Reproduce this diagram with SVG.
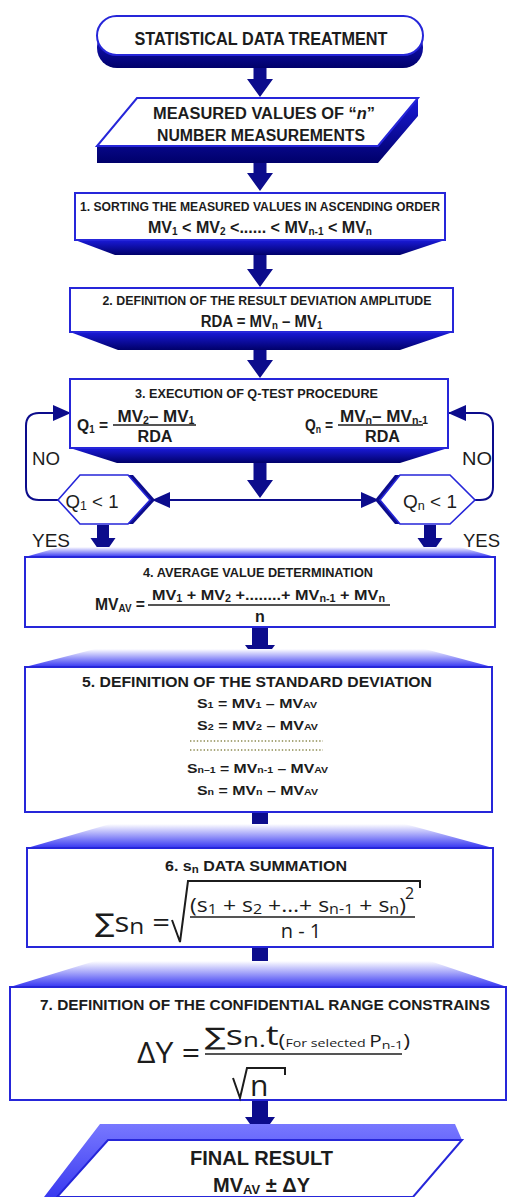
<svg xmlns="http://www.w3.org/2000/svg" width="508" height="1197" viewBox="0 0 508 1197">
<defs>
<style>
.t{font-family:"Liberation Sans",Arial,sans-serif;font-weight:bold;fill:#1c1c1c}
.r{font-family:"Liberation Sans",Arial,sans-serif;font-weight:normal;fill:#1c1c1c}
.m{font-family:"Open Sans","Noto Sans",sans-serif;font-weight:normal;fill:#1c1c1c}
.sig{font-family:"DejaVu Sans",sans-serif}
.box{fill:#fff;stroke:#2626d9;stroke-width:2}
.arr{fill:#0c0c8c}
.ln{stroke:#0c0c8c;stroke-width:2;fill:none}
.fr{stroke:#1c1c1c;stroke-width:1.5;fill:none}
.dot{stroke:#8c8a50;stroke-width:1.6;stroke-dasharray:1.4 2}
</style>
<linearGradient id="shade" x1="0" y1="0" x2="0" y2="1">
<stop offset="0" stop-color="#1a1ad8"/><stop offset="1" stop-color="#00006a"/>
</linearGradient>
<linearGradient id="bevel" x1="0" y1="0" x2="0" y2="1">
<stop offset="0" stop-color="#ffffff"/><stop offset="1" stop-color="#3434f2"/>
</linearGradient>
<linearGradient id="fin" x1="0" y1="0" x2="0" y2="1">
<stop offset="0" stop-color="#7878ff"/><stop offset="1" stop-color="#3a3af0"/>
</linearGradient>
<marker id="tri" viewBox="0 0 18 16" markerWidth="18" markerHeight="16" refX="17" refY="8" orient="auto" markerUnits="userSpaceOnUse">
<path d="M0,0 L18,8 L0,16 Z" fill="#0c0c8c"/>
</marker>
</defs>
<rect width="508" height="1197" fill="#fff"/>

<g id="connectors">
<path class="arr" d="M253.5,67 H266.5 V79 H273 L260,97 L247,79 H253.5 Z"/>
<path class="arr" d="M253.5,162 H266.5 V173 H273 L260,191 L247,173 H253.5 Z"/>
<path class="arr" d="M253.5,255 H266.5 V269 H273 L260,287 L247,269 H253.5 Z"/>
<path class="arr" d="M253.5,350 H266.5 V360 H273 L260,378 L247,360 H253.5 Z"/>
<path class="arr" d="M253.5,463 H266.5 V480 H273 L260,498 L247,480 H253.5 Z"/>
<path class="ln" d="M260,500 H153" marker-end="url(#tri)"/>
<path class="ln" d="M260,500 H378" marker-end="url(#tri)"/>
<path class="ln" d="M58,500 H39 Q26,500 26,487 V426 Q26,413 39,413 H70" marker-end="url(#tri)"/>
<path class="ln" d="M475,500 H480 Q493,500 493,487 V426 Q493,413 480,413 H449" marker-end="url(#tri)"/>
<path class="arr" d="M97,525 H109 V538 H115.5 L103,556 L90.5,538 H97 Z"/>
<path class="arr" d="M424,525 H436 V538 H442.5 L430,556 L417.5,538 H424 Z"/>
<path class="arr" d="M252,627 H268 V645 H275 L260,665 L245,645 H252 Z"/>
<path class="arr" d="M252,812 H268 V828 H275 L260,848 L245,828 H252 Z"/>
<path class="arr" d="M252,947 H268 V965 H275 L260,985 L245,965 H252 Z"/>
<path class="arr" d="M252,1100 H268 V1117 H275 L260,1138 L245,1117 H252 Z"/>
</g>

<g id="start">
<rect x="97" y="27" width="326" height="41" rx="20" fill="url(#shade)"/>
<rect class="box" x="97" y="16" width="326" height="39" rx="19.5"/>
<text class="t" x="261" y="45" font-size="18" text-anchor="middle" textLength="253" lengthAdjust="spacingAndGlyphs">STATISTICAL DATA TREATMENT</text>
</g>

<g id="input">
<polygon points="97,146 378,146 418,98 418,116 378,163 97,163" fill="url(#shade)"/>
<polygon class="box" points="137,98 418,98 378,146 97,146"/>
<text class="t" x="264" y="119" font-size="16" text-anchor="middle" textLength="222" lengthAdjust="spacingAndGlyphs">MEASURED VALUES OF “<tspan font-style="italic">n</tspan>”</text>
<text class="t" x="261" y="141" font-size="16" text-anchor="middle" textLength="208" lengthAdjust="spacingAndGlyphs">NUMBER MEASUREMENTS</text>
</g>

<g id="step1">
<polygon points="75,240 445,240 400,255 115,255" fill="url(#shade)"/>
<rect class="box" x="75" y="193" width="370" height="47"/>
<text class="t" x="260" y="211" font-size="12" text-anchor="middle" textLength="360" lengthAdjust="spacingAndGlyphs">1. SORTING THE MEASURED VALUES IN ASCENDING ORDER</text>
<text class="t" x="260" y="233" font-size="16" text-anchor="middle" textLength="224" lengthAdjust="spacingAndGlyphs">MV<tspan font-size="10" dy="2">1</tspan><tspan dy="-2"> &lt; MV</tspan><tspan font-size="10" dy="2">2</tspan><tspan dy="-2"> &lt;...... &lt; MV</tspan><tspan font-size="10" dy="2">n-1</tspan><tspan dy="-2"> &lt; MV</tspan><tspan font-size="10" dy="2">n</tspan></text>
</g>

<g id="step2">
<polygon points="70,332 453,332 400,350 118,350" fill="url(#shade)"/>
<rect class="box" x="70" y="288" width="383" height="44"/>
<text class="t" x="267" y="305" font-size="13" text-anchor="middle" textLength="329" lengthAdjust="spacingAndGlyphs">2. DEFINITION OF THE RESULT DEVIATION AMPLITUDE</text>
<text class="t" transform="translate(261.5,327) scale(0.88,1)" x="0" y="0" font-size="17" text-anchor="middle">RDA = MV<tspan font-size="11" dy="2">n</tspan><tspan dy="-2"> – MV</tspan><tspan font-size="11" dy="2">1</tspan></text>
</g>

<g id="step3">
<polygon points="70,448 448,448 400,463 117,463" fill="url(#shade)"/>
<rect class="box" x="70" y="379" width="378" height="69"/>
<text class="t" x="256.5" y="398" font-size="12" text-anchor="middle" textLength="243" lengthAdjust="spacingAndGlyphs">3. EXECUTION OF Q-TEST PROCEDURE</text>
<text class="t" x="77" y="431" font-size="16" textLength="31" lengthAdjust="spacingAndGlyphs">Q<tspan font-size="10" dy="2">1</tspan><tspan dy="-2"> =</tspan></text>
<text class="t" x="156" y="422" font-size="16" text-anchor="middle" textLength="77" lengthAdjust="spacingAndGlyphs">MV<tspan font-size="10" dy="2">2</tspan><tspan dy="-2">– MV</tspan><tspan font-size="10" dy="2">1</tspan></text>
<line class="fr" x1="113" y1="425" x2="196" y2="425"/>
<text class="t" x="155" y="442" font-size="16" text-anchor="middle" textLength="35" lengthAdjust="spacingAndGlyphs">RDA</text>
<text class="t" x="305" y="431" font-size="16" textLength="28" lengthAdjust="spacingAndGlyphs">Q<tspan font-size="10" dy="2">n</tspan><tspan dy="-2"> =</tspan></text>
<text class="t" x="384" y="422" font-size="16" text-anchor="middle" textLength="88" lengthAdjust="spacingAndGlyphs">MV<tspan font-size="10" dy="2">n</tspan><tspan dy="-2">– MV</tspan><tspan font-size="10" dy="2">n-1</tspan></text>
<line class="fr" x1="338" y1="425" x2="423" y2="425"/>
<text class="t" x="382.5" y="442" font-size="16" text-anchor="middle" textLength="35" lengthAdjust="spacingAndGlyphs">RDA</text>
</g>

<g id="testQ1">
<polygon points="63,500 85,475 133,475 155,500 133,524 85,524" fill="#0c0c8c"/>
<polygon points="58,500 80,475 128,475 150,500 128,524 80,524" fill="#fff" stroke="#2626d9" stroke-width="1.6"/>
<text class="r" x="92" y="508" font-size="18" text-anchor="middle" textLength="53" lengthAdjust="spacingAndGlyphs">Q<tspan font-size="12" dy="2">1</tspan><tspan dy="-2"> &lt; 1</tspan></text>
</g>

<g id="testQn">
<polygon points="375,500 395,475 445,475 470,500 445,524 395,524" fill="#0c0c8c"/>
<polygon points="380,500 400,475 450,475 475,500 450,524 400,524" fill="#fff" stroke="#2626d9" stroke-width="1.6"/>
<text class="r" x="430" y="508" font-size="18" text-anchor="middle" textLength="54" lengthAdjust="spacingAndGlyphs">Q<tspan font-size="12" dy="2">n</tspan><tspan dy="-2"> &lt; 1</tspan></text>
</g>

<g id="labels">
<text class="r" x="32" y="465" font-size="18" textLength="28" lengthAdjust="spacingAndGlyphs">NO</text>
<text class="r" x="462" y="465" font-size="18" textLength="30" lengthAdjust="spacingAndGlyphs">NO</text>
<text class="r" x="32" y="547" font-size="18" textLength="38" lengthAdjust="spacingAndGlyphs">YES</text>
<text class="r" x="463" y="547" font-size="18" textLength="37" lengthAdjust="spacingAndGlyphs">YES</text>
</g>

<g id="step4">
<polygon points="25,557 495,557 460,547 60,547" fill="url(#bevel)"/>
<rect class="box" x="25" y="557" width="470" height="70"/>
<text class="t" x="258" y="577" font-size="12" text-anchor="middle" textLength="230" lengthAdjust="spacingAndGlyphs">4. AVERAGE VALUE DETERMINATION</text>
<text class="t" x="95" y="610" font-size="16" textLength="50" lengthAdjust="spacingAndGlyphs">MV<tspan font-size="10" dy="2">AV</tspan><tspan dy="-2"> =</tspan></text>
<text class="t" x="268.5" y="600" font-size="15" text-anchor="middle" textLength="233" lengthAdjust="spacingAndGlyphs">MV<tspan font-size="10" dy="2">1</tspan><tspan dy="-2"> + MV</tspan><tspan font-size="10" dy="2">2</tspan><tspan dy="-2"> +........+ MV</tspan><tspan font-size="10" dy="2">n-1</tspan><tspan dy="-2"> + MV</tspan><tspan font-size="10" dy="2">n</tspan></text>
<line class="fr" x1="148" y1="605" x2="390" y2="605"/>
<text class="t" x="260" y="622" font-size="16" text-anchor="middle">n</text>
</g>

<g id="step5">
<polygon points="25,667 492,667 425,649 95,649" fill="url(#bevel)"/>
<rect class="box" x="25" y="667" width="467" height="145"/>
<text class="t" x="257" y="687" font-size="15" text-anchor="middle" textLength="350" lengthAdjust="spacingAndGlyphs">5. DEFINITION OF THE STANDARD DEVIATION</text>
<text class="t" x="257" y="708" font-size="13.5" text-anchor="middle" textLength="120" lengthAdjust="spacingAndGlyphs">S<tspan font-size="9">1</tspan> = MV<tspan font-size="9">1</tspan> – MV<tspan font-size="9">AV</tspan></text>
<text class="t" x="257.5" y="730" font-size="13.5" text-anchor="middle" textLength="121" lengthAdjust="spacingAndGlyphs">S<tspan font-size="9">2</tspan> = MV<tspan font-size="9">2</tspan> – MV<tspan font-size="9">AV</tspan></text>
<line class="dot" x1="190" y1="741" x2="323" y2="741"/>
<line class="dot" x1="190" y1="750" x2="323" y2="750"/>
<text class="t" x="257.5" y="773" font-size="13.5" text-anchor="middle" textLength="141" lengthAdjust="spacingAndGlyphs">S<tspan font-size="9">n–1</tspan> = MV<tspan font-size="9">n-1</tspan> – MV<tspan font-size="9">AV</tspan></text>
<text class="t" x="257.5" y="795" font-size="13.5" text-anchor="middle" textLength="121" lengthAdjust="spacingAndGlyphs">S<tspan font-size="9">n</tspan> = MV<tspan font-size="9">n</tspan> – MV<tspan font-size="9">AV</tspan></text>
</g>

<g id="step6">
<polygon points="27,848 493,848 405,824 110,824" fill="url(#bevel)"/>
<rect class="box" x="27" y="848" width="466" height="99"/>
<text class="t" x="256" y="871" font-size="14" text-anchor="middle" textLength="182" lengthAdjust="spacingAndGlyphs">6. s<tspan font-size="10" dy="2">n</tspan><tspan dy="-2"> DATA SUMMATION</tspan></text>
<text class="m" x="95" y="932" font-size="28" textLength="75" lengthAdjust="spacingAndGlyphs"><tspan class="sig" font-size="26">∑</tspan>s<tspan font-size="22" dy="2">n</tspan><tspan dy="-2"> =</tspan></text>
<path d="M172,920 L180,942 L188,881 L420,881 L420,888" fill="none" stroke="#1c1c1c" stroke-width="2"/>
<text class="m" x="190" y="912" font-size="20" textLength="216" lengthAdjust="spacingAndGlyphs">(s<tspan font-size="14" dy="2">1</tspan><tspan dy="-2"> + s</tspan><tspan font-size="14" dy="2">2</tspan><tspan dy="-2"> +…+ s</tspan><tspan font-size="14" dy="2">n-1</tspan><tspan dy="-2"> + s</tspan><tspan font-size="14" dy="2">n</tspan><tspan dy="-2">)</tspan></text>
<text class="m" x="405" y="899" font-size="16">2</text>
<line class="fr" x1="190" y1="917" x2="415" y2="917"/>
<text class="m" x="301" y="938" font-size="20" text-anchor="middle">n - 1</text>
</g>

<g id="step7">
<polygon points="10,987 507,987 430,961 95,961" fill="url(#bevel)"/>
<rect class="box" x="10" y="987" width="496" height="113"/>
<text class="t" x="265" y="1010" font-size="15" text-anchor="middle" textLength="450" lengthAdjust="spacingAndGlyphs">7. DEFINITION OF THE CONFIDENTIAL RANGE CONSTRAINS</text>
<text class="m" x="137" y="1063" font-size="30" textLength="63" lengthAdjust="spacingAndGlyphs">ΔY =</text>
<text class="m" x="205" y="1045" font-size="28" textLength="205" lengthAdjust="spacingAndGlyphs"><tspan class="sig" font-size="24">∑</tspan>s<tspan font-size="20" dy="2">n.</tspan><tspan dy="-2">t</tspan><tspan font-size="18" dy="2">(</tspan><tspan font-size="11">For selected  </tspan><tspan font-size="16">P</tspan><tspan font-size="11" dy="2">n-1</tspan><tspan font-size="18" dy="-2">)</tspan></text>
<line class="fr" x1="205" y1="1054" x2="402" y2="1054"/>
<path d="M233,1078 L240,1098 L247,1068 L285,1068 L285,1075" fill="none" stroke="#1c1c1c" stroke-width="2"/>
<text class="m" x="250" y="1096" font-size="30">n</text>
</g>

<g id="result">
<polygon points="100,1124 455,1124 462,1140 108,1140 57,1197 44,1197" fill="url(#fin)"/>
<polygon points="108,1140 462,1140 413,1197 57,1197" fill="#fff" stroke="#2626d9" stroke-width="2"/>
<text class="t" x="261.5" y="1165" font-size="20" text-anchor="middle" textLength="143" lengthAdjust="spacingAndGlyphs">FINAL RESULT</text>
<text class="t" x="261.5" y="1192" font-size="20" text-anchor="middle" textLength="97" lengthAdjust="spacingAndGlyphs">MV<tspan font-size="13" dy="2">AV</tspan><tspan dy="-2"> ± ΔY</tspan></text>
</g>
</svg>
